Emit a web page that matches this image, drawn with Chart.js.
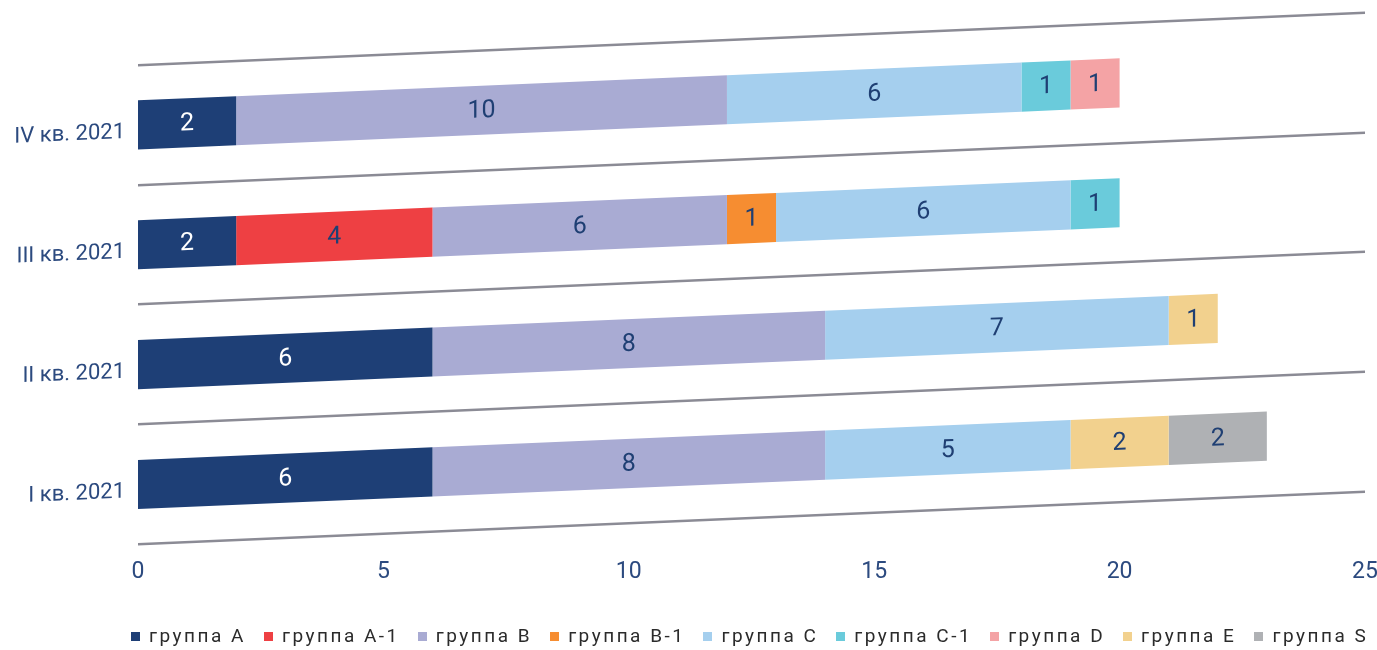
<!DOCTYPE html>
<html>
<head>
<meta charset="utf-8">
<script src="https://cdn.jsdelivr.net/npm/chart.js@4.4.1/dist/chart.umd.min.js"></script>
<style>
  html, body { margin: 0; padding: 0; background: #fff; }
  #wrap { position: relative; width: 1377px; height: 650px; }
  #c { display: block; }
  #legend {
    position: absolute; left: 131px; top: 625px;
    display: flex; gap: 18px;
    font-family: Roboto, sans-serif; font-size: 19px; letter-spacing: 2.5px;
    color: #2b2b2b; white-space: nowrap; line-height: 22px;
  }
  #legend .item { display: flex; align-items: center; }
  #legend .sw { width: 9px; height: 9px; margin-right: 9px; }
</style>
</head>
<body>
<div id="wrap">
  <canvas id="c" width="1377" height="650"></canvas>
  <div id="legend"></div>
</div>
<script>
// Quarters, top to bottom
const quarters = ['IV кв. 2021', 'III кв. 2021', 'II кв. 2021', 'I кв. 2021'];

// Number of items per group in each quarter (null = none)
const groupA  = [2, 2, 6, 6];
const groupA1 = [null, 4, null, null];
const groupB  = [10, 6, 8, 8];
const groupB1 = [null, 1, null, null];
const groupC  = [6, 6, 7, 5];
const groupC1 = [1, 1, null, null];
const groupD  = [1, null, null, null];
const groupE  = [null, null, 1, 2];
const groupS  = [null, null, null, 2];

// Value axis
const axisMax = 25;
const axisStep = 5;

const NAVY = '#2c4a7f';
const INK = '#1f3f73';
const SKEW = 0.0428; // upward slant of the plot, rise per pixel

const series = [
  { label: 'группа A',   data: groupA,  color: '#1e3f76', text: '#ffffff' },
  { label: 'группа A-1', data: groupA1, color: '#ee4043', text: INK },
  { label: 'группа B',   data: groupB,  color: '#a9abd3', text: INK },
  { label: 'группа B-1', data: groupB1, color: '#f68d31', text: INK },
  { label: 'группа C',   data: groupC,  color: '#a5cfee', text: INK },
  { label: 'группа C-1', data: groupC1, color: '#6acbdb', text: INK },
  { label: 'группа D',   data: groupD,  color: '#f4a3a5', text: INK },
  { label: 'группа E',   data: groupE,  color: '#f2d18e', text: INK },
  { label: 'группа S',   data: groupS,  color: '#afb1b4', text: INK }
];

// Slants the grid, category names and bars; value labels are written inside the slant
const slantPlugin = {
  id: 'slant',
  beforeDraw(chart) {
    const ctx = chart.ctx;
    const x0 = chart.chartArea.left;
    ctx.save();
    ctx.transform(1, -SKEW, 0, 1, 0, SKEW * x0);
  },
  afterDatasetsDraw(chart) {
    const ctx = chart.ctx;
    ctx.font = '400 25px Roboto, sans-serif';
    ctx.textAlign = 'center';
    ctx.textBaseline = 'middle';
    chart.data.datasets.forEach((ds, di) => {
      const meta = chart.getDatasetMeta(di);
      meta.data.forEach((bar, i) => {
        const v = ds.data[i];
        if (v === null || v === undefined) return;
        ctx.fillStyle = series[di].text;
        ctx.fillText(String(v), (bar.x + bar.base) / 2, bar.y + 1);
      });
    });
    ctx.restore();
  }
};

const chart = new Chart(document.getElementById('c'), {
  type: 'bar',
  data: {
    labels: quarters,
    datasets: series.map(s => ({
      label: s.label,
      data: s.data,
      backgroundColor: s.color,
      borderWidth: 0,
      barPercentage: 0.41,
      categoryPercentage: 1
    }))
  },
  options: {
    indexAxis: 'y',
    responsive: false,
    animation: false,
    layout: { padding: { top: 65, bottom: 50, left: 0, right: 12 } },
    plugins: { legend: { display: false }, tooltip: { enabled: false } },
    scales: {
      x: {
        stacked: true,
        min: 0,
        max: axisMax,
        grid: { display: false, drawTicks: false },
        border: { display: false },
        ticks: {
          stepSize: axisStep,
          z: 1,
          padding: 14,
          maxRotation: 0,
          color: NAVY,
          font: { family: 'Roboto', size: 23 }
        },
        afterFit(scale) { scale.paddingLeft = 0; scale.paddingRight = 0; }
      },
      y: {
        stacked: true,
        grid: { offset: true, color: '#8b8b95', lineWidth: 2.5, drawTicks: false, z: -1 },
        border: { display: false },
        ticks: {
          padding: 13,
          labelOffset: 7,
          color: NAVY,
          font: { family: 'Roboto', size: 22 }
        },
        afterFit(scale) { scale.width = 138; }
      }
    }
  },
  plugins: [slantPlugin]
});

// Legend row built from the chart's datasets
const legendEl = document.getElementById('legend');
chart.data.datasets.forEach(ds => {
  const item = document.createElement('div');
  item.className = 'item';
  const sw = document.createElement('span');
  sw.className = 'sw';
  sw.style.background = ds.backgroundColor;
  const txt = document.createElement('span');
  txt.textContent = ds.label;
  item.appendChild(sw);
  item.appendChild(txt);
  legendEl.appendChild(item);
});
</script>
</body>
</html>
